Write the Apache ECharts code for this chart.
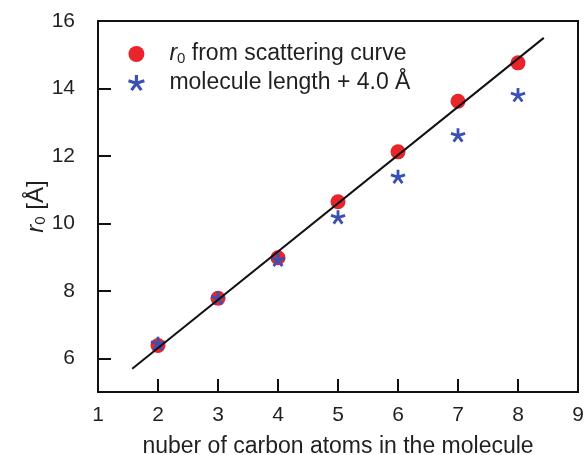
<!DOCTYPE html>
<html><head><meta charset="utf-8">
<script src="https://cdn.jsdelivr.net/npm/echarts@6/dist/echarts.min.js"></script>
<style>html,body{margin:0;padding:0;background:#fff}#c{width:585px;height:455px}</style>
</head><body><div id="c"></div>
<script>
const carbonAtoms = [2, 3, 4, 5, 6, 7, 8];
const r0Scattering = [6.38, 7.78, 8.98, 10.64, 12.12, 13.62, 14.76];
const moleculeLengthPlus4 = [6.43, 7.78, 8.92, 10.18, 11.38, 12.61, 13.80];
const fitLineX = [1.57, 8.43];
const fitLineY = [5.69, 15.50];
const xTicks = [1, 2, 3, 4, 5, 6, 7, 8, 9];
const yTicks = [6, 8, 10, 12, 14, 16];

function starPath() {
  const L = 1, w = 0.19;
  let d = '';
  for (let k = 0; k < 5; k++) {
    const a = k * 72 * Math.PI / 180;
    const c = Math.cos(a), s = Math.sin(a);
    const pts = [[-w, 0], [-w, -L], [w, -L], [w, 0]].map(([x, y]) => [x * c - y * s, x * s + y * c]);
    d += 'M' + pts.map(p => p[0].toFixed(3) + ' ' + p[1].toFixed(3)).join(' L') + ' Z ';
  }
  return 'path://' + d;
}

const FONT = 'Liberation Sans, Arial, Helvetica, sans-serif';
const TXT = '#231f20';
const chart = echarts.init(document.getElementById('c'), null, {renderer: 'canvas'});
chart.setOption({
  animation: false,
  backgroundColor: '#fff',
  grid: {left: 98, right: 7, top: 21, bottom: 63, show: true, borderColor: '#111', borderWidth: 2,
         containLabel: false, outerBoundsMode: 'none'},
  legend: {
    orient: 'vertical', left: 128, top: 42, padding: 0, itemWidth: 18, itemHeight: 16, itemGap: 5,
    data: ['r0', 'len'],
    formatter: n => n === 'r0' ? '{i|r}{s|0} from scattering curve' : 'molecule length + 4.0 Å',
    textStyle: {fontFamily: FONT, fontSize: 23, lineHeight: 24, color: TXT, padding: [0, 0, 0, 19],
      rich: {i: {fontFamily: FONT, fontSize: 23, lineHeight: 24, fontStyle: 'italic', color: TXT},
             s: {fontFamily: FONT, fontSize: 15, lineHeight: 24, color: TXT, verticalAlign: 'bottom', padding: [7, 0, 0, 0]}}}
  },
  xAxis: {
    type: 'value', min: 1, max: 9, interval: 1,
    name: 'nuber of carbon atoms in the molecule', nameLocation: 'middle', nameGap: 43, nameMoveOverlap: false,
    nameTextStyle: {fontFamily: FONT, fontSize: 23, color: TXT},
    axisLine: {show: false}, splitLine: {show: false},
    axisTick: {inside: true, length: 13, lineStyle: {color: '#111', width: 2}, customValues: xTicks},
    axisLabel: {fontFamily: FONT, fontSize: 21, color: TXT, margin: 13, customValues: xTicks}
  },
  yAxis: {
    type: 'value', min: 5, max: 16,
    name: '{i|r}{s|0} [Å]', nameLocation: 'middle', nameGap: 50, nameRotate: 90, nameMoveOverlap: false,
    nameTextStyle: {fontFamily: FONT, fontSize: 24, color: TXT,
      rich: {i: {fontFamily: FONT, fontSize: 24, fontStyle: 'italic', color: TXT},
             s: {fontFamily: FONT, fontSize: 15, color: TXT, verticalAlign: 'bottom', padding: [8, 0, 0, 0]}}},
    axisLine: {show: false}, splitLine: {show: false},
    axisTick: {inside: true, length: 13, lineStyle: {color: '#111', width: 2}, customValues: yTicks},
    axisLabel: {fontFamily: FONT, fontSize: 21, color: TXT, margin: 23, customValues: yTicks}
  },
  series: [
    {name: 'r0', type: 'scatter', symbol: 'circle', symbolSize: 15, z: 2,
     itemStyle: {color: '#e8252b', opacity: 1},
     data: carbonAtoms.map((x, i) => [x, r0Scattering[i]])},
    {name: 'len', type: 'scatter', symbol: starPath(), symbolKeepAspect: true, symbolSize: 15, z: 3,
     itemStyle: {color: '#3a50b2', opacity: 1},
     data: carbonAtoms.map((x, i) => [x, moleculeLengthPlus4[i]])},
    {name: 'fit', type: 'line', symbol: 'none', z: 4, silent: true,
     lineStyle: {color: '#111', width: 2},
     data: fitLineX.map((x, i) => [x, fitLineY[i]])}
  ]
});
</script></body></html>
